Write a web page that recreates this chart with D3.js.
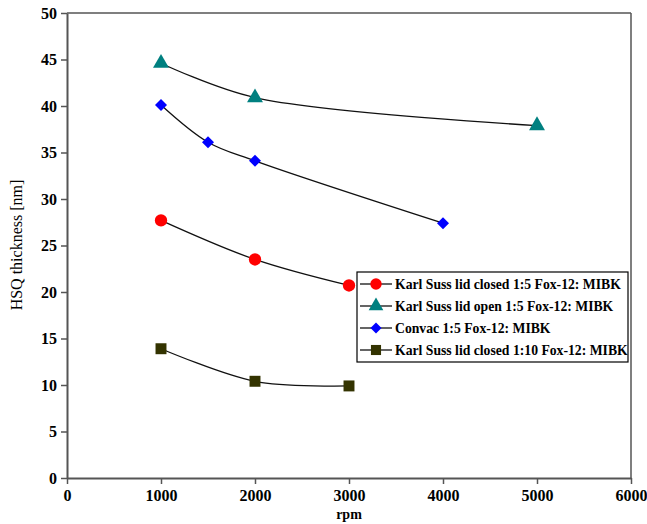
<!DOCTYPE html>
<html><head><meta charset="utf-8">
<script src="https://cdn.jsdelivr.net/npm/d3@7"></script>
<style>body{margin:0;background:#fff}svg{display:block}</style>
</head><body>
<script>
const xTicks = [0,1000,2000,3000,4000,5000,6000];
const yTicks = [0,5,10,15,20,25,30,35,40,45,50];
const seriesNames = ["Karl Suss lid closed 1:5 Fox-12: MIBK","Karl Suss lid open 1:5 Fox-12: MIBK","Convac 1:5 Fox-12: MIBK","Karl Suss lid closed 1:10 Fox-12: MIBK"];
const redX = [1000,2000,3000], redY = [27.7,23.5,20.7];
const tealX = [1000,2000,5000], tealY = [44.6,40.9,37.9];
const blueX = [1000,1500,2000,4000], blueY = [40.1,36.1,34.1,27.4];
const oliveX = [1000,2000,3000], oliveY = [13.9,10.4,9.9];

const W=647,H=524;
const svg=d3.select("body").append("svg").attr("width",W).attr("height",H);
const x=d3.scaleLinear().domain([0,6000]).range([67,631]);
const y=d3.scaleLinear().domain([0,50]).range([478,13]);
const font="'Liberation Serif','Times New Roman',serif";
const axisColor="#555";

svg.append("line").attr("x1",x(0)).attr("x2",x(6000)).attr("y1",y(50)).attr("y2",y(50)).attr("stroke",axisColor).attr("stroke-width",1.5);
svg.append("line").attr("x1",x(6000)).attr("x2",x(6000)).attr("y1",y(50)).attr("y2",y(0)).attr("stroke",axisColor).attr("stroke-width",1.5);

const xa=svg.append("g").attr("transform",`translate(0,${y(0)})`).call(d3.axisBottom(x).tickValues(xTicks).tickSize(6).tickSizeOuter(0).tickFormat(d3.format("d")));
const ya=svg.append("g").attr("transform",`translate(${x(0)},0)`).call(d3.axisLeft(y).tickValues(yTicks).tickSize(6).tickSizeOuter(0));
[xa,ya].forEach(g=>{
  g.select(".domain").attr("stroke",axisColor).attr("stroke-width",2);
  g.selectAll(".tick line").attr("stroke",axisColor).attr("stroke-width",1.5);
  g.selectAll(".tick text").attr("fill","#000").style("font-family",font).style("font-size","16px").style("font-weight","bold");
});
xa.selectAll(".tick text").attr("dy","0.9em");
ya.selectAll(".tick text").attr("dx","-1");

svg.append("text").attr("x",(x(0)+x(6000))/2).attr("y",519).attr("text-anchor","middle")
  .style("font-family",font).style("font-size","14px").style("font-weight","bold").text("rpm");
svg.append("text").attr("transform",`translate(22,245) rotate(-90)`).attr("text-anchor","middle")
  .style("font-family",font).style("font-size","16px").style("font-weight","normal").text("HSQ thickness [nm]");

const line=d3.line().x(d=>x(d[0])).y(d=>y(d[1])).curve(d3.curveCatmullRom.alpha(0.5));
const series=[
  {xs:redX,ys:redY,color:"#ff0000",sym:d3.symbolCircle,size:120,rot:0},
  {xs:tealX,ys:tealY,color:"#008080",sym:d3.symbolTriangle,size:110,rot:0},
  {xs:blueX,ys:blueY,color:"#0000ff",sym:d3.symbolSquare,size:72,rot:45},
  {xs:oliveX,ys:oliveY,color:"#333300",sym:d3.symbolSquare,size:120,rot:0}
];
series.forEach(s=>{
  const pts=s.xs.map((v,i)=>[v,s.ys[i]]);
  svg.append("path").attr("d",line(pts)).attr("fill","none").attr("stroke","#111").attr("stroke-width",1.3);
  svg.selectAll(null).data(pts).enter().append("path")
    .attr("d",d3.symbol().type(s.sym).size(s.size))
    .attr("transform",d=>`translate(${x(d[0])},${y(d[1])}) rotate(${s.rot})`).attr("fill",s.color);
});

const lg=svg.append("g");
lg.append("rect").attr("x",357).attr("y",272).attr("width",271).attr("height",90).attr("fill","#fff").attr("stroke","#000").attr("stroke-width",1.2);
series.forEach((s,i)=>{
  const cy=284+i*22;
  lg.append("line").attr("x1",360).attr("x2",392).attr("y1",cy).attr("y2",cy).attr("stroke","#111").attr("stroke-width",1.3);
  lg.append("path").attr("d",d3.symbol().type(s.sym).size(s.size*0.85)).attr("transform",`translate(376,${cy}) rotate(${s.rot})`).attr("fill",s.color);
  lg.append("text").attr("x",395).attr("y",cy).attr("dy","0.35em").style("font-family",font).style("font-size","13.7px").style("font-weight","bold").text(seriesNames[i]);
});
</script>
</body></html>
